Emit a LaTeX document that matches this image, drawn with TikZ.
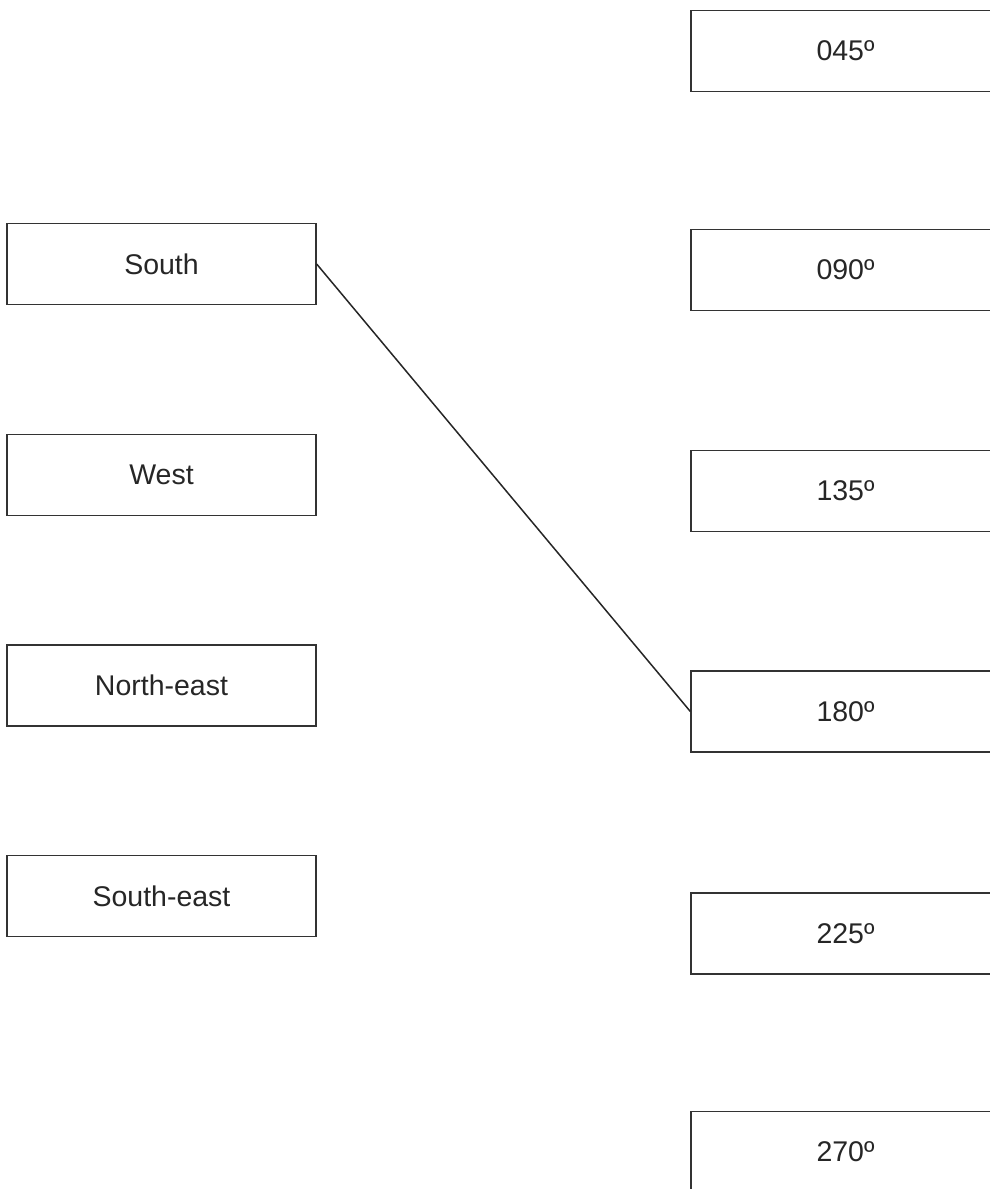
\documentclass[tikz,border=0pt]{standalone}
\usepackage{fontspec}
\setmainfont{Liberation Sans}
\begin{document}
\begin{tikzpicture}[x=1pt,y=-1pt,
  box/.style={draw=black!80, line width=1.3pt, minimum width=309pt, minimum height=81pt, inner sep=0pt, font=\fontsize{28.5}{34}\selectfont, text=black!85},
  link/.style={draw=black!85, line width=1.5pt}]
\useasboundingbox (0,0) rectangle (989,1189);
\node[box] (south) at (161.5,264) {South};
\node[box] (west) at (161.5,475) {West};
\node[box] (ne) at (161.5,685.5) {North-east};
\node[box] (se) at (161.5,896) {South-east};
\node[box] (a045) at (845.5,51) {045º};
\node[box] (a090) at (845.5,270) {090º};
\node[box] (a135) at (845.5,491) {135º};
\node[box] (a180) at (845.5,711.5) {180º};
\node[box] (a225) at (845.5,933.5) {225º};
\node[box] (a270) at (845.5,1152) {270º};
\draw[link] (south.east) -- (a180.west);
\end{tikzpicture}
\end{document}
